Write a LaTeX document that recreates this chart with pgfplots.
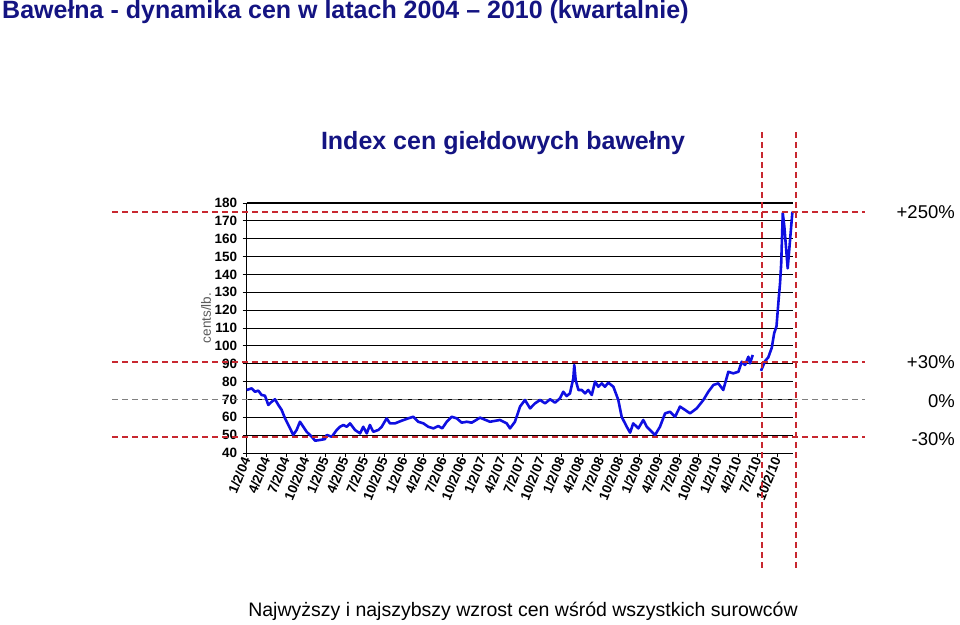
\documentclass[border=0pt]{standalone}
\usepackage{fontspec}
\setmainfont{Liberation Sans}
\usepackage{pgfplots}
\pgfplotsset{compat=1.18}
\definecolor{navy}{RGB}{20,20,130}
\definecolor{dred}{RGB}{200,40,48}
\definecolor{lblue}{RGB}{15,15,225}
\definecolor{labgray}{RGB}{90,90,90}
\begin{document}
\begin{tikzpicture}
\useasboundingbox (0pt,0pt) rectangle (960pt,-624pt);
\node[anchor=west, font=\fontsize{25}{29}\selectfont\bfseries, text=navy, inner sep=0] at (2pt,-12pt) {Bawełna - dynamika cen w latach 2004 – 2010 (kwartalnie)};
\node[font=\fontsize{25}{30}\selectfont\bfseries, text=navy, inner sep=0] at (503pt,-143pt) {Index cen giełdowych bawełny};
\node[font=\fontsize{19.5}{23}\selectfont, inner sep=0] at (523pt,-611pt) {Najwyższy i najszybszy wzrost cen wśród wszystkich surowców};
\node[rotate=90, font=\fontsize{13.5}{15}\selectfont, text=labgray, inner sep=0] at (206pt,-318pt) {cents/lb.};
\begin{axis}[
  at={(246.7pt,-453pt)}, anchor=south west,
  scale only axis, width=546.3pt, height=250pt,
  xmin=0, xmax=27.8, ymin=40, ymax=180,
  axis x line=bottom, axis y line=left,
  axis line style={-, black, line width=1pt},
  ytick={40,50,...,180},
  xtick={0,...,27},
  xticklabels={1/2/04,4/2/04,7/2/04,10/2/04,1/2/05,4/2/05,7/2/05,10/2/05,1/2/06,4/2/06,7/2/06,10/2/06,1/2/07,4/2/07,7/2/07,10/2/07,1/2/08,4/2/08,7/2/08,10/2/08,1/2/09,4/2/09,7/2/09,10/2/09,1/2/10,4/2/10,7/2/10,10/2/10},
  /pgf/number format/assume math mode=true,
  yticklabel style={font=\fontsize{13.5}{15}\selectfont\bfseries, xshift=-2pt},
  xticklabel style={font=\fontsize{13.5}{15}\selectfont\bfseries, rotate=68, anchor=east, inner sep=1pt},
  tick align=outside, major tick length=4pt,
  tick style={black, line width=0.8pt},
  ymajorgrids, major grid style={black, line width=0.9pt},
  clip=false,
]
\draw[black, line width=2pt] (axis cs:0,180) -- (axis cs:27.8,180);
\draw[gray, line width=1.2pt, dash pattern=on 6pt off 4pt] (axis cs:-6.85,70) -- (axis cs:31.47,70);
\addplot[lblue, line width=2.6pt, line join=round, mark=none] coordinates {
(0.00,75.3)(0.25,76.2)(0.42,74.3)(0.59,74.9)(0.76,72.5)(0.93,72.1)(1.10,66.9)(1.27,68.7)
(1.44,70.1)(1.61,66.9)(1.78,64.1)(1.95,59.4)(2.12,55.7)(2.37,50.1)(2.54,52.9)(2.71,57.5)
(2.88,54.7)(3.05,51.9)(3.31,49.1)(3.48,46.9)(3.73,47.3)(3.98,47.8)(4.07,50.1)(4.33,49.1)
(4.58,52.9)(4.75,54.7)(4.92,55.7)(5.09,54.7)(5.26,56.6)(5.51,52.9)(5.77,51.0)(5.93,54.7)
(6.11,51.0)(6.27,55.7)(6.44,51.9)(6.70,52.9)(6.87,54.7)(7.12,59.4)(7.29,56.6)(7.55,56.6)
(7.89,58.1)(8.22,59.4)(8.48,60.3)(8.73,57.5)(8.99,56.6)(9.24,54.7)(9.50,53.8)(9.75,55.1)
(9.95,53.8)(10.18,57.5)(10.43,60.3)(10.69,59.4)(10.94,57.0)(11.20,57.5)(11.45,57.0)(11.62,58.1)
(11.87,59.8)(12.38,57.5)(12.89,58.5)(13.23,56.6)(13.40,53.8)(13.65,57.5)(13.91,66.0)(14.16,69.7)
(14.42,65.0)(14.67,67.8)(14.93,69.7)(15.18,67.8)(15.44,70.1)(15.69,68.2)(15.94,70.6)(16.11,74.3)
(16.28,71.9)(16.45,73.4)(16.62,81.8)(16.67,89.3)(16.74,80.9)(16.88,75.3)(17.05,75.3)(17.22,73.4)
(17.38,75.3)(17.56,72.5)(17.73,80.0)(17.89,77.1)(18.07,79.0)(18.23,77.1)(18.40,79.4)(18.66,77.1)
(18.91,69.7)(19.08,60.3)(19.34,54.7)(19.51,51.4)(19.67,56.6)(19.93,53.8)(20.18,58.5)(20.36,54.7)
(20.61,51.9)(20.78,50.1)(21.03,54.7)(21.29,62.2)(21.54,63.1)(21.80,60.3)(22.05,66.0)(22.31,64.1)
(22.56,62.2)(22.90,65.0)(23.24,69.7)(23.49,74.3)(23.75,78.1)(24.00,79.0)(24.25,75.3)(24.51,85.5)
(24.76,84.6)(25.02,85.5)(25.19,91.1)(25.36,89.3)(25.53,93.9)(25.61,90.2)(25.75,94.9)
};
\addplot[lblue, line width=2.6pt, line join=round, mark=none] coordinates {
(26.17,86.0)(26.38,91.5)(26.54,93.5)(26.72,99.0)(26.84,107.0)(26.96,111.0)(27.08,127.5)
(27.14,135.0)(27.20,146.2)(27.28,174.4)(27.36,166.7)(27.53,143.4)(27.65,159.3)(27.77,175.1)
};
\draw[dred, line width=1.8pt, dash pattern=on 6pt off 4pt] (axis cs:-6.85,175) -- (axis cs:31.47,175);
\draw[dred, line width=1.8pt, dash pattern=on 6pt off 4pt] (axis cs:-6.85,91) -- (axis cs:31.47,91);
\draw[dred, line width=1.8pt, dash pattern=on 6pt off 4pt] (axis cs:-6.85,49) -- (axis cs:31.47,49);
\draw[dred, line width=1.8pt, dash pattern=on 6pt off 4pt] (axis cs:26.22,219.7) -- (axis cs:26.22,-26.6);
\draw[dred, line width=1.8pt, dash pattern=on 6pt off 4pt] (axis cs:27.96,219.7) -- (axis cs:27.96,-26.6);
\end{axis}
\node[anchor=east, font=\fontsize{18.5}{21}\selectfont, inner sep=0] at (955pt,-211.9pt) {+250\%};
\node[anchor=east, font=\fontsize{18.5}{21}\selectfont, inner sep=0] at (955pt,-361.9pt) {+30\%};
\node[anchor=east, font=\fontsize{18.5}{21}\selectfont, inner sep=0] at (955pt,-401.5pt) {0\%};
\node[anchor=east, font=\fontsize{18.5}{21}\selectfont, inner sep=0] at (955pt,-439.5pt) {-30\%};
\end{tikzpicture}
\end{document}
